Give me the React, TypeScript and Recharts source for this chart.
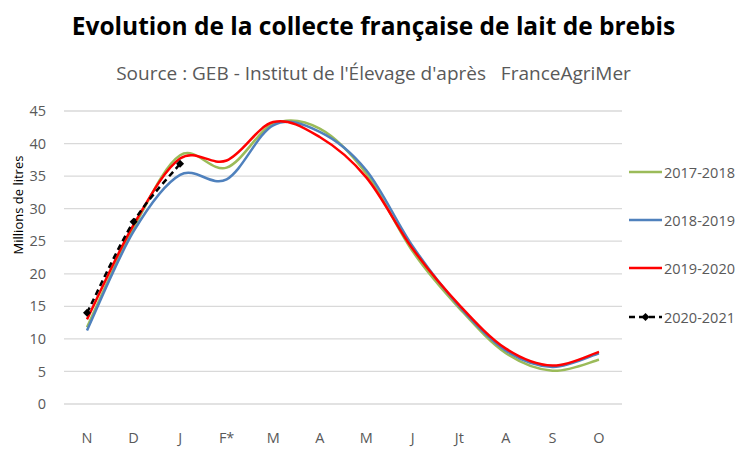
import React from 'react';
import { LineChart, Line, XAxis, YAxis, CartesianGrid } from 'recharts';

const months = ['N', 'D', 'J', 'F*', 'M', 'A', 'M', 'J', 'Jt', 'A', 'S', 'O'];
const s2017 = [11.8, 27.0, 38.2, 36.3, 43.0, 42.3, 35.4, 23.4, 14.7, 7.8, 5.1, 6.8];
const s2018 = [11.3, 26.5, 35.2, 34.5, 42.8, 41.8, 35.9, 24.2, 15.0, 8.2, 5.7, 7.8];
const s2019 = [13.0, 27.5, 37.7, 37.4, 43.3, 41.0, 34.8, 23.8, 15.2, 8.5, 5.9, 8.0];
const s2020 = [14.0, 28.0, 36.9];
const yTicks = [0, 5, 10, 15, 20, 25, 30, 35, 40, 45];

const seriesInfo = [
  { key: 'a', name: '2017-2018', color: '#9BBB59' },
  { key: 'b', name: '2018-2019', color: '#4F81BD' },
  { key: 'c', name: '2019-2020', color: '#FF0000' },
  { key: 'd', name: '2020-2021', color: '#000000' },
];

const data = months.map((m, i) => ({
  m: m + '#' + i,
  a: s2017[i],
  b: s2018[i],
  c: s2019[i],
  d: i < s2020.length ? s2020[i] : null,
}));

const FONT = '"Open Sans", "Noto Sans", sans-serif';
const GREY = '#595959';

// Excel-like smoothed line (Catmull-Rom style bezier)
const excelCurve = (ctx: any) => {
  let pts: number[][] = [];
  return {
    areaStart() {},
    areaEnd() {},
    lineStart() { pts = []; },
    point(x: number, y: number) { pts.push([x, y]); },
    lineEnd() {
      if (!pts.length) return;
      ctx.moveTo(pts[0][0], pts[0][1]);
      for (let i = 0; i < pts.length - 1; i++) {
        const p0 = pts[i - 1] || pts[i];
        const p1 = pts[i];
        const p2 = pts[i + 1];
        const p3 = pts[i + 2] || p2;
        ctx.bezierCurveTo(
          p1[0] + (p2[0] - p0[0]) / 6, p1[1] + (p2[1] - p0[1]) / 6,
          p2[0] - (p3[0] - p1[0]) / 6, p2[1] - (p3[1] - p1[1]) / 6,
          p2[0], p2[1],
        );
      }
    },
  };
};

const Diamond = (props: any) => {
  const { cx, cy } = props;
  if (cx == null || cy == null) return null;
  return <path d={`M${cx},${cy - 4}L${cx + 4},${cy}L${cx},${cy + 4}L${cx - 4},${cy}Z`} fill="#000" />;
};

export default function App() {
  return (
    <div style={{ position: 'absolute', left: 0, top: 0, width: 747, height: 461, background: '#fff', fontFamily: FONT }}>
      <div style={{ position: 'absolute', top: 9, left: 0, width: 747, textAlign: 'center', fontSize: 24.5, fontWeight: 700, color: '#000' }}>
        Evolution de la collecte française de lait de brebis
      </div>
      <div style={{ position: 'absolute', top: 60, left: 0, width: 747, textAlign: 'center', fontSize: 19, color: GREY }}>
        Source : GEB - Institut de l'Élevage d'après&nbsp;&nbsp; FranceAgriMer
      </div>
      <div style={{ position: 'absolute', left: 18, top: 205, transform: 'translate(-50%, -50%) rotate(-90deg)', fontSize: 13, color: '#000', whiteSpace: 'nowrap' }}>
        Millions de litres
      </div>
      <div style={{ position: 'absolute', left: 0, top: 0 }}>
        <LineChart width={747} height={461} data={data} margin={{ top: 111, right: 125, bottom: 7, left: 20 }}>
          <CartesianGrid vertical={false} stroke="#d9d9d9" strokeWidth={1.3} />
          <XAxis
            dataKey="m"
            tickFormatter={(v: string) => v.split('#')[0]}
            axisLine={false}
            tickLine={false}
            tickSize={0}
            tickMargin={29}
            height={50}
            interval={0}
            padding={{ left: 23, right: 23 }}
            tick={{ fill: GREY, fontSize: 14.5, fontFamily: FONT }}
          />
          <YAxis
            domain={[0, 45]}
            ticks={yTicks}
            axisLine={false}
            tickLine={false}
            tickSize={0}
            tickMargin={18}
            width={44}
            tick={{ fill: GREY, fontSize: 14.5, fontFamily: FONT }}
          />
          <Line type={excelCurve as any} dataKey="a" name="2017-2018" stroke="#9BBB59" strokeWidth={2.5} dot={false} isAnimationActive={false} />
          <Line type={excelCurve as any} dataKey="b" name="2018-2019" stroke="#4F81BD" strokeWidth={2.5} dot={false} isAnimationActive={false} />
          <Line type={excelCurve as any} dataKey="c" name="2019-2020" stroke="#FF0000" strokeWidth={2.5} dot={false} isAnimationActive={false} />
          <Line type={excelCurve as any} dataKey="d" name="2020-2021" stroke="#000000" strokeWidth={2.5} strokeDasharray="6 4" dot={<Diamond />} connectNulls={false} isAnimationActive={false} />
        </LineChart>
      </div>
      {seriesInfo.map((s, i) => (
        <div key={s.key} style={{ position: 'absolute', left: 629, top: [172, 220, 268, 317][i] - 10, height: 20, display: 'flex', alignItems: 'center', fontSize: 14.5, color: GREY }}>
          <svg width={33} height={10} style={{ marginRight: 2 }}>
            <line x1={0} y1={5} x2={33} y2={5} stroke={s.color} strokeWidth={2.5} strokeDasharray={s.key === 'd' ? '6 4' : undefined} />
            {s.key === 'd' && <path d="M16.5,1L20.5,5L16.5,9L12.5,5Z" fill="#000" />}
          </svg>
          {s.name}
        </div>
      ))}
    </div>
  );
}
